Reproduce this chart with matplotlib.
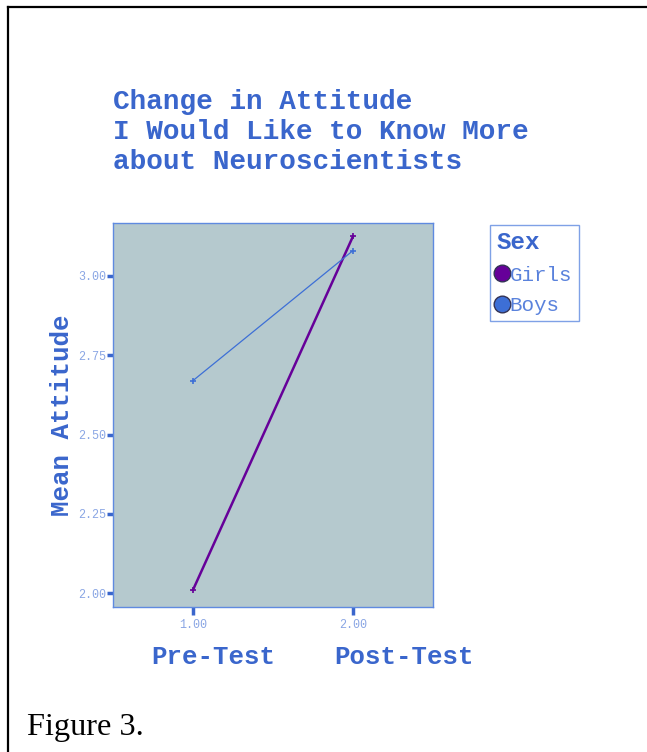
import matplotlib
matplotlib.use("Agg")
import matplotlib.pyplot as plt
from matplotlib.lines import Line2D

# data
times = [1.0, 2.0]
girls = [2.01, 3.125]
boys = [2.67, 3.08]
yticks = [2.00, 2.25, 2.50, 2.75, 3.00]
xcats = ["Pre-Test", "Post-Test"]
title_lines = ["Change in Attitude", "I Would Like to Know More", "about Neuroscientists"]

mono = "Liberation Mono"
blue = "#3a66cc"
light = "#8aa6e4"
purple = "#660099"
boyblue = "#3d6fd6"

fig = plt.figure(figsize=(6.47, 7.52), dpi=100)
ax = fig.add_axes([113/647, 1-607/752, 320/647, 384/752])
ax.set_facecolor("#b5c9ce")
for s in ax.spines.values():
    s.set_color("#5f8ae0")
    s.set_linewidth(1.0)

ax.plot(times, girls, color=purple, lw=1.8, marker="+", ms=5, mew=1.2)
ax.plot(times, boys, color=boyblue, lw=0.9, marker="+", ms=5, mew=1.2)

ax.set_xlim(0.5, 2.5)
ax.set_ylim(1.956, 3.167)
ax.set_xticks(times)
ax.set_xticklabels(["%.2f" % t for t in times])
ax.set_yticks(yticks)
ax.set_yticklabels(["%.2f" % t for t in yticks])
ax.tick_params(axis="y", direction="out", length=4, width=2.5, color=blue,
               labelcolor=light, labelsize=8.5, pad=1)
ax.tick_params(axis="x", direction="out", length=6, width=2.5, color=blue,
               labelcolor=light, labelsize=8.5, pad=3)
for lab in ax.get_xticklabels() + ax.get_yticklabels():
    lab.set_family(mono)

ax.set_ylabel("Mean Attitude", family=mono, weight="bold", size=18.5,
              color=blue, labelpad=3)

# category names under the ticks
fig.text(213/647, 1-657/752, xcats[0], family=mono, weight="bold", size=18.5,
         color=blue, ha="center", va="center")
fig.text(404/647, 1-657/752, xcats[1], family=mono, weight="bold", size=18.5,
         color=blue, ha="center", va="center")

for i, line in enumerate(title_lines):
    fig.text(113/647, 1-(102 + 30*i)/752, line, family=mono, weight="bold",
             size=20, color=blue, ha="left", va="center")

handles = [Line2D([], [], ls="none", marker="o", ms=12, mfc=purple, mec="#333355", mew=1),
           Line2D([], [], ls="none", marker="o", ms=12, mfc=boyblue, mec="#333355", mew=1)]
leg = fig.legend(handles, ["Girls", "Boys"], loc="upper left",
                 bbox_to_anchor=(490/647, 1-225/752), title="Sex",
                 alignment="left", frameon=True, fancybox=False,
                 handlelength=0.55, handletextpad=0.1, borderpad=0.3,
                 labelspacing=0.55, borderaxespad=0,
                 prop={"family": mono, "size": 15},
                 title_fontproperties={"family": mono, "weight": "bold", "size": 17.5})
leg.get_frame().set_edgecolor("#5f8ae0")
leg.get_frame().set_linewidth(1.0)
leg.get_title().set_color(blue)
for t in leg.get_texts():
    t.set_color("#5a82dc")

fig.text(27/647, 1-728/752, "Figure 3.", family="Liberation Serif", size=23.3,
         color="black", ha="left", va="center")

# page frame: top and left edges
fig.add_artist(Line2D([7.5/647, 1.0], [1-6.5/752, 1-6.5/752], color="black", lw=1.6))
fig.add_artist(Line2D([7.5/647, 7.5/647], [0, 1-6.5/752], color="black", lw=1.6))

fig.savefig("out.png", dpi=100)
